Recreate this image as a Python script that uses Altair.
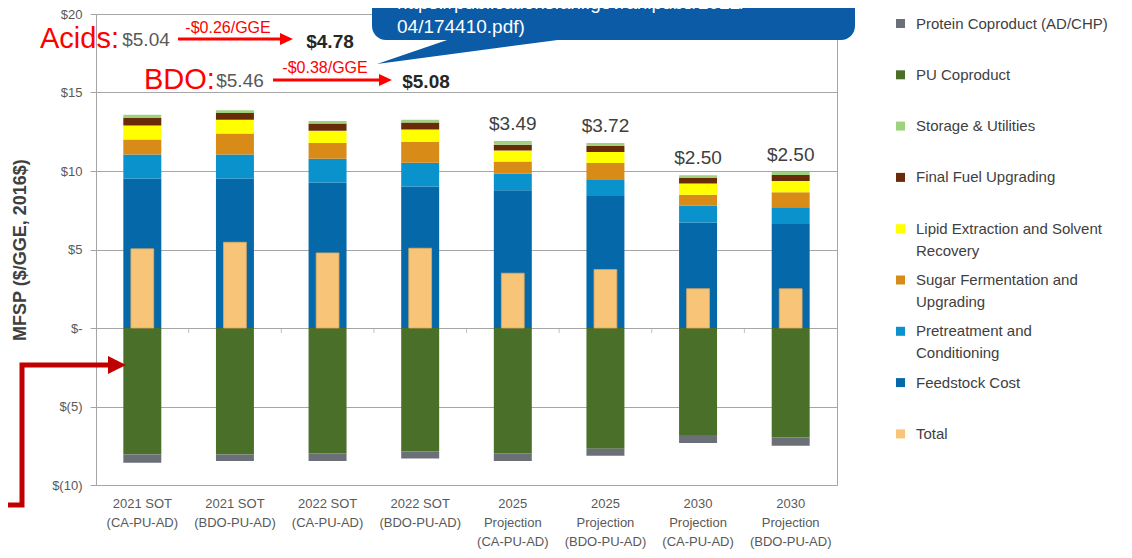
import altair as alt
import pandas as pd

# ---------------- data ----------------
categories = [
    "2021 SOT|(CA-PU-AD)", "2021 SOT|(BDO-PU-AD)",
    "2022 SOT|(CA-PU-AD)", "2022 SOT|(BDO-PU-AD)",
    "2025|Projection|(CA-PU-AD)", "2025|Projection|(BDO-PU-AD)",
    "2030|Projection|(CA-PU-AD)", "2030|Projection|(BDO-PU-AD)",
]
feedstock = [9.52, 9.52, 9.27, 9.01, 8.77, 8.41, 6.72, 6.63]
pretreatment = [1.53, 1.53, 1.51, 1.51, 1.06, 1.06, 1.08, 1.06]
sugar = [0.96, 1.34, 1.00, 1.34, 0.78, 1.04, 0.68, 0.96]
lipid = [0.89, 0.87, 0.78, 0.78, 0.70, 0.70, 0.72, 0.72]
final_fuel = [0.47, 0.44, 0.46, 0.45, 0.36, 0.38, 0.36, 0.38]
storage = [0.21, 0.17, 0.16, 0.17, 0.24, 0.19, 0.17, 0.19]
pu_coproduct = [-8.05, -8.05, -7.97, -7.86, -7.97, -7.69, -6.82, -6.97]
protein = [-0.53, -0.42, -0.50, -0.45, -0.50, -0.45, -0.51, -0.53]
total = [5.04, 5.46, 4.78, 5.08, 3.49, 3.72, 2.50, 2.50]

series = [
    "Protein Coproduct (AD/CHP)", "PU Coproduct", "Storage & Utilities",
    "Final Fuel Upgrading", "Lipid Extraction and Solvent|Recovery",
    "Sugar Fermentation and|Upgrading", "Pretreatment and|Conditioning",
    "Feedstock Cost", "Total",
]
colors = ["#6b6f77", "#4a6f28", "#9fd27f", "#6a2c08", "#ffff00",
          "#d98b18", "#0992cc", "#0569a9", "#f8c477"]

labelled_bars = [4, 5, 6, 7]  # bars with value labels above

acids_text = ["Acids:", "$5.04", "-$0.26/GGE", "$4.78"]
bdo_text = ["BDO:", "$5.46", "-$0.38/GGE", "$5.08"]
callout_lines = ["https://publications.anl.gov/anlpubs/2022/", "04/174410.pdf)"]

# stack order: bottom -> top for positives, zero -> down for negatives
stack_parts = [
    (series[7], feedstock), (series[6], pretreatment), (series[5], sugar),
    (series[4], lipid), (series[3], final_fuel), (series[2], storage),
    (series[1], pu_coproduct), (series[0], protein),
]
rows = []
for order, (name, vals) in enumerate(stack_parts):
    for c, v in zip(categories, vals):
        rows.append({"cat": c, "series": name, "value": v, "ord": order})
stack_df = pd.DataFrame(rows)

total_df = pd.DataFrame({"cat": categories, "value": total, "series": "Total"})

tops = [sum(p[1][i] for p in stack_parts[:6]) for i in range(len(categories))]
lab_df = pd.DataFrame({
    "cat": [categories[i] for i in labelled_bars],
    "top": [tops[i] for i in labelled_bars],
    "txt": ["$%.2f" % total[i] for i in labelled_bars],
})
tick_df = pd.DataFrame({"cat": categories[1:], "zero": [0] * (len(categories) - 1)})

FONT = "Liberation Sans"
W, H = 741, 471

x_enc = alt.X(
    "cat:N", sort=categories,
    scale=alt.Scale(paddingInner=0.59, paddingOuter=0.295),
    axis=alt.Axis(title=None, labelExpr="split(datum.label, '|')", labelAngle=0,
                  ticks=False, domain=False, labelFontSize=13, labelColor="#595959",
                  labelLineHeight=19, labelPadding=12, labelFont=FONT, labelBaseline="top"),
)
y_scale = alt.Scale(domain=[-10, 20], nice=False, zero=False)
y_axis = alt.Axis(
    values=[-10, -5, 0, 5, 10, 15, 20],
    labelExpr="datum.value == 0 ? '$-' : (datum.value < 0 ? '$(' + abs(datum.value) + ')' : '$' + datum.value)",
    grid=True, gridColor="#a6a6a6", tickColor="#a6a6a6", tickSize=6, domainColor="#a6a6a6",
    labelFontSize=13, labelColor="#595959", labelPadding=8, labelFont=FONT,
    title="MFSP ($/GGE, 2016$)", titleFontSize=18, titleFontWeight="bold",
    titleColor="#404040", titleFont=FONT, titleX=-76, titleY=H / 2, titleAngle=270,
    titleAlign="center", titleBaseline="middle",
)
color_enc = alt.Color(
    "series:N",
    scale=alt.Scale(domain=series, range=colors),
    legend=alt.Legend(
        title=None, orient="none", legendX=797, legendY=2, padding=0,
        symbolType="square", symbolSize=81, symbolStrokeWidth=0,
        labelFontSize=15, labelColor="#404040", labelFont=FONT, labelLimit=0,
        labelExpr="indexof(datum.label, '|') >= 0 ? split(datum.label, '|') : split(datum.label + '|', '|')",
        labelOffset=8, rowPadding=13.3, labelBaseline="middle",
    ),
)

bars = alt.Chart(stack_df).mark_bar().encode(
    x=x_enc,
    y=alt.Y("value:Q", stack="zero", scale=y_scale, axis=y_axis),
    color=color_enc,
    order=alt.Order("ord:Q"),
)
total_bars = alt.Chart(total_df).mark_bar(
    width=alt.RelativeBandSize(0.6), stroke="#e3a85a", strokeWidth=0.8
).encode(x=x_enc, y=alt.Y("value:Q", scale=y_scale), color=color_enc)

value_labels = alt.Chart(lab_df).mark_text(
    font=FONT, fontSize=19, color="#404040", dy=-17, baseline="middle"
).encode(x=x_enc, y=alt.Y("top:Q", scale=y_scale), text="txt:N")

zero_ticks = alt.Chart(tick_df).mark_tick(
    orient="vertical", size=5, thickness=1, color="#a6a6a6",
    xOffset=-W / len(categories) / 2, yOffset=2.5
).encode(x=x_enc, y=alt.Y("zero:Q", scale=y_scale))


def note(text, x, y, size, color, weight="normal", align="center", baseline="middle"):
    return alt.Chart(pd.DataFrame({"t": [text]})).mark_text(
        font=FONT, fontSize=size, color=color, fontWeight=weight,
        align=align, baseline=baseline
    ).encode(x=alt.value(x), y=alt.value(y), text="t:N")


def shape(path, color, filled=True, width=1):
    kw = dict(shape=path, size=4, opacity=1, filled=filled)
    if filled:
        kw.update(fill=color, strokeWidth=0)
    else:
        kw.update(stroke=color, strokeWidth=width, strokeJoin="miter", strokeCap="butt")
    return alt.Chart(pd.DataFrame({"a": [0]})).mark_point(**kw).encode(
        x=alt.value(0), y=alt.value(0))


def rule(x1, x2, y, color, width):
    return alt.Chart(pd.DataFrame({"a": [0]})).mark_rule(
        color=color, strokeWidth=width).encode(
        x=alt.value(x1), x2=alt.value(x2), y=alt.value(y))


RED = "#ff0000"
annotations = [
    # callout bubble
    alt.Chart(pd.DataFrame({"a": [0]})).mark_rect(
        color="#0b5ba7", cornerRadius=14).encode(
        x=alt.value(276), x2=alt.value(759), y=alt.value(-60), y2=alt.value(26)),
    shape("M357,24 L477,24 L281,50 Z", "#0b5ba7"),
    note(callout_lines[0], 301, -5, 19, "white", align="left", baseline="alphabetic"),
    note(callout_lines[1], 301, 19, 19, "white", align="left", baseline="alphabetic"),
    # Acids line
    note(acids_text[0], -56, 25, 29, RED, align="left"),
    note(acids_text[1], 50, 26, 19, "#595959"),
    rule(82, 186, 25, RED, 3),
    shape("M197,25 L184,19 L184,31 Z", RED),
    note(acids_text[2], 132, 14, 16, RED),
    note(acids_text[3], 234, 28, 19, "#262626", weight="bold"),
    # BDO line
    note(bdo_text[0], 48, 66, 29, RED, align="left"),
    note(bdo_text[1], 144, 67, 19, "#595959"),
    rule(177, 283, 66, RED, 3),
    shape("M296,66 L283,60 L283,72 Z", RED),
    note(bdo_text[2], 229, 54, 16, RED),
    note(bdo_text[3], 330, 68, 19, "#262626", weight="bold"),
    # elbow arrow pointing at coproduct credits
    shape("M-100,491 L-74,491 L-74,351 L13,351", "#c00000", filled=False, width=5),
    shape("M30,351 L12,342 L12,360 Z", "#c00000"),
]

chart = alt.layer(bars, total_bars, zero_ticks, value_labels, *annotations).properties(
    width=W, height=H,
    autosize=alt.AutoSizeParams(type="none"),
    padding={"left": 88, "top": 6, "right": 287, "bottom": 65},
).configure(
    font=FONT,
    view=alt.ViewConfig(stroke="#a6a6a6", strokeWidth=1),
    style={"guide-label": {"lineHeight": 22}},
)

chart.save("out.html", embed_options={"renderer": "svg", "actions": False})
